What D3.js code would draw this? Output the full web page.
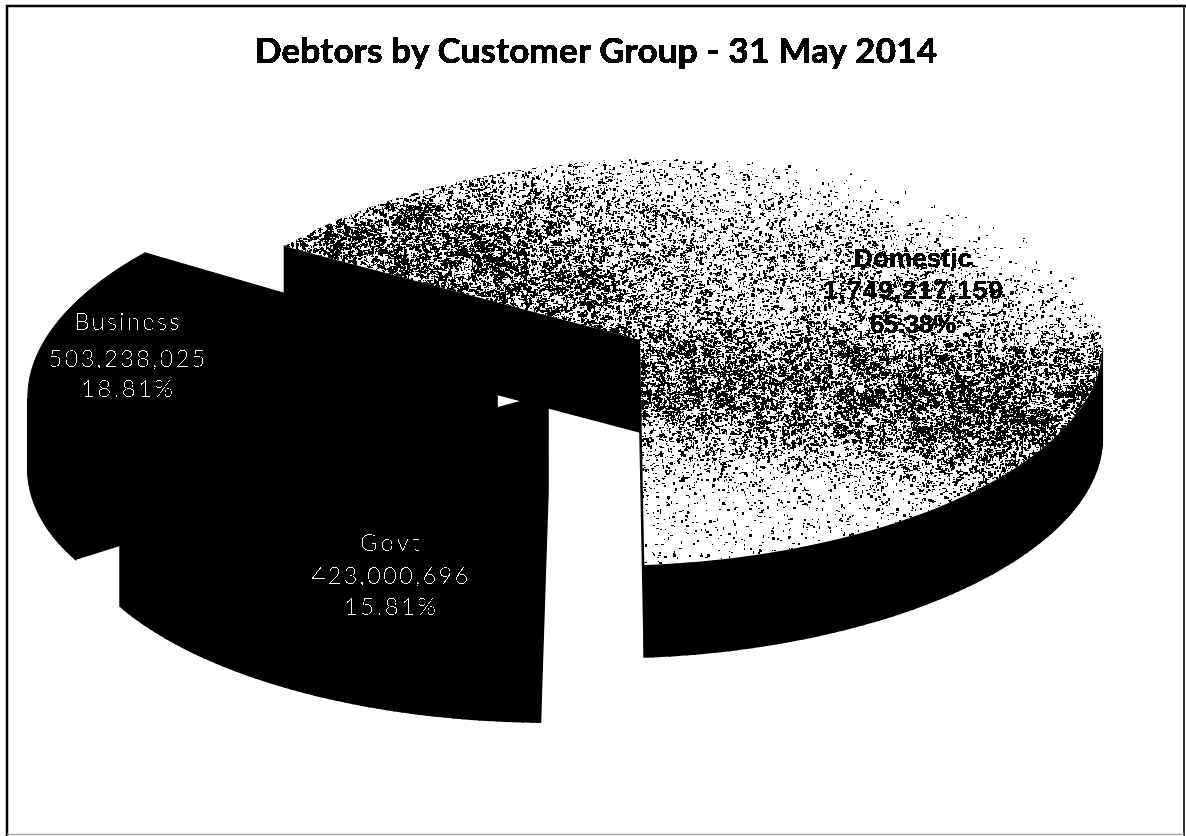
<!DOCTYPE html>
<html>
<head>
<meta charset="utf-8">
<title>Debtors by Customer Group</title>
<script src="https://cdn.jsdelivr.net/npm/d3@7"></script>
<style>
  html, body { margin: 0; padding: 0; background: #fff; }
  svg { display: block; }
</style>
</head>
<body>
<svg id="chart" width="1186" height="836"></svg>
<script>
// Debtor balances per customer group
const groups = ["Domestic", "Govt", "Business"];
const balances = [1749217159, 423000696, 503238025];
const chartTitle = "Debtors by Customer Group - 31 May 2014";

// Where each exploded slice sits and how its disc is foreshortened
const placements = [
  { ox: 640, oy: 340, p: 432, q: -150, r: 51, s: 195, k: 0.10, h: 0.04, depth: 92 },
  { ox: 548, oy: 394, p: 445, q: -166, r: 75, s: 193, k: 0.10, h: 0.03, depth: 97 },
  { ox: 497, oy: 355, p: 430, q: -170, r: 58, s: 200, k: 0.10, h: 0.03, depth: 72 }
];
const labelBoxes = [
  { x: 913, baselines: [267, 299, 333], widths: [118, 180, 86], fill: "#000", weight: 700, size: 26, family: "'Liberation Sans', sans-serif", filter: "url(#crisp)", stroke: 0.5 },
  { x: 390, baselines: [551, 584, 615], widths: [60, 157, 92], fill: "#fff", weight: 300, size: 24, family: "Lato, 'Liberation Sans', sans-serif", filter: "url(#brittle)", stroke: 0 },
  { x: 127, baselines: [330, 367, 397], widths: [105, 157, 92], fill: "#fff", weight: 300, size: 24, family: "Lato, 'Liberation Sans', sans-serif", filter: "url(#brittle)", stroke: 0 }
];

const width = 1186, height = 836;
const svg = d3.select("#chart");
const defs = svg.append("defs");

// Hard alpha thresholds: the second one breaks thin glyphs up like a 1-bit scan
const crisp = defs.append("filter").attr("id", "crisp")
  .attr("x", "-5%").attr("y", "-20%").attr("width", "110%").attr("height", "140%");
crisp.append("feComponentTransfer").append("feFuncA")
  .attr("type", "discrete").attr("tableValues", "0 0 1 1");
const brittle = defs.append("filter").attr("id", "brittle")
  .attr("x", "-5%").attr("y", "-20%").attr("width", "110%").attr("height", "140%");
brittle.append("feComponentTransfer").append("feFuncA")
  .attr("type", "discrete").attr("tableValues", "0 0 0 0 1 1");

const pie = d3.pie().sort(null)
  .startAngle(-75 * Math.PI / 180)
  .endAngle(285 * Math.PI / 180);
const arcs = pie(balances);
const total = d3.sum(balances);
const line = d3.line();

function project(pl, angle, radius, drop) {
  const u = radius * Math.sin(angle), v = -radius * Math.cos(angle);
  const w = 1 / (1 - pl.k * v - pl.h * u);
  return [pl.ox + (pl.p * u + pl.q * v) * w,
          pl.oy + (pl.r * u + pl.s * v) * w + drop];
}

// Outline of a slice: apex, then the rim sampled along its arc
function outline(arc, pl, drop) {
  const steps = Math.ceil((arc.endAngle - arc.startAngle) * 60);
  const rim = d3.range(steps + 1).map(i =>
    project(pl, arc.startAngle + (arc.endAngle - arc.startAngle) * i / steps, 1, drop));
  return [project(pl, 0, 0, drop), ...rim];
}

function drawSlice(arc, pl, topFill, topStroke) {
  const g = svg.append("g").attr("class", "slice");
  const top = outline(arc, pl, 0), bottom = outline(arc, pl, pl.depth);
  // Only walls whose edge runs leftwards face the viewer
  const walls = top.map((pt, i) => {
    const j = (i + 1) % top.length;
    return [pt, top[j], bottom[j], bottom[i]];
  }).filter(q => q[1][0] < q[0][0]);
  g.selectAll("path.wall").data(walls).join("path")
    .attr("class", "wall")
    .attr("d", d => line(d) + "Z")
    .attr("fill", "#000").attr("stroke", "#000").attr("stroke-width", 1.6);
  g.append("path").attr("class", "top")
    .attr("d", line(top) + "Z")
    .attr("fill", topFill)
    .attr("stroke", topStroke)
    .attr("stroke-width", 1);
  return top;
}

// Stippled shading of the light slice, dark through the middle and
// washing out towards the front and the far right edge
function shadingDensity(x, y) {
  const bandY = 382 + 0.05 * (x - 640);
  let d = 0.05 + 0.95 * Math.exp(-Math.pow((y - bandY) / 58, 2));
  d += 0.2 * Math.exp(-Math.pow((y - 262) / 62, 2));
  d += 0.85 * Math.exp(-Math.pow((x - 440) / 175, 2)) * Math.exp(-Math.pow((y - 255) / 72, 2));
  d += 0.3 * Math.exp(-Math.pow((x - 1000) / 90, 2)) * Math.exp(-Math.pow((y - 450) / 40, 2));
  const fadeY = 205 + (x - 850) * 0.49;
  d *= 0.03 + 0.97 / (1 + Math.exp((fadeY - y) / 12));
  return d;
}

function stippleImage() {
  const canvas = document.createElement("canvas");
  canvas.width = width; canvas.height = height;
  const ctx = canvas.getContext("2d");
  const rng = d3.randomLcg(0.4217);
  // Two sizes of clumping so the grain reads as blotches rather than a screen
  const grid = cell => {
    const cols = Math.ceil(width / cell) + 1, rows = Math.ceil(height / cell) + 1;
    const vals = d3.range(cols * rows).map(() => rng());
    return (x, y) => vals[Math.floor(y / cell) * cols + Math.floor(x / cell)];
  };
  const fine = grid(5), coarse = grid(17);
  ctx.fillStyle = "#000";
  for (let i = 0; i < 260000; i++) {
    const x = 270 + rng() * 850, y = 140 + rng() * 440;
    const c = (0.3 + fine(x, y) * 1.3) * (0.55 + coarse(x, y) * 0.9);
    if (rng() < shadingDensity(x, y) * c * 0.62) {
      const r = rng();
      const w = r < 0.45 ? 1 : r < 0.8 ? 2 : 3;
      const h = rng() < 0.55 ? 1 : rng() < 0.7 ? 2 : 3;
      ctx.fillRect(Math.round(x), Math.round(y), w, h);
    }
  }
  return canvas.toDataURL("image/png");
}

// Light slice first, the two dark slices sit in front of it
const domesticTop = drawSlice(arcs[0], placements[0], "#fff", "none");
defs.append("clipPath").attr("id", "domestic-top")
  .append("path").attr("d", line(domesticTop) + "Z");
svg.append("image")
  .attr("href", stippleImage())
  .attr("width", width).attr("height", height)
  .attr("clip-path", "url(#domestic-top)");
drawSlice(arcs[2], placements[2], "#000", "#000");
drawSlice(arcs[1], placements[1], "#000", "#000");

// Slice labels: name, balance, share of the total
const formatValue = d3.format(",");
const formatShare = d3.format(".2%");
groups.forEach((name, i) => {
  const box = labelBoxes[i];
  const lines = [name, formatValue(balances[i]), formatShare(balances[i] / total)];
  svg.append("g").attr("class", "label")
    .attr("filter", box.filter)
    .selectAll("text").data(lines).join("text")
    .attr("x", box.x)
    .attr("y", (d, j) => box.baselines[j])
    .attr("text-anchor", "middle")
    .attr("textLength", (d, j) => box.widths[j])
    .attr("lengthAdjust", "spacing")
    .attr("font-family", box.family)
    .attr("font-size", box.size)
    .attr("font-weight", box.weight)
    .attr("fill", box.fill)
    .attr("stroke", box.stroke ? box.fill : "none")
    .attr("stroke-width", box.stroke)
    .text(d => d);
});

// Title
svg.append("text")
  .attr("x", 596).attr("y", 63)
  .attr("text-anchor", "middle")
  .attr("font-family", "Lato, 'Open Sans', sans-serif")
  .attr("font-weight", 700)
  .attr("font-size", 35)
  .attr("textLength", 682)
  .attr("lengthAdjust", "spacing")
  .attr("fill", "#000")
  .attr("stroke", "#000")
  .attr("stroke-width", 0.7)
  .attr("filter", "url(#crisp)")
  .text(chartTitle);

// Frame around the chart area
const frame = svg.append("g").attr("class", "frame").attr("fill", "none");
frame.append("path").attr("d", "M7,836V6H1186").attr("stroke", "#000").attr("stroke-width", 2.5);
frame.append("path").attr("d", "M1184,6V836").attr("stroke", "#000").attr("stroke-width", 1.6);
frame.append("path").attr("d", "M7,834.5H1184").attr("stroke", "#aaa").attr("stroke-width", 1.6);
</script>
</body>
</html>
